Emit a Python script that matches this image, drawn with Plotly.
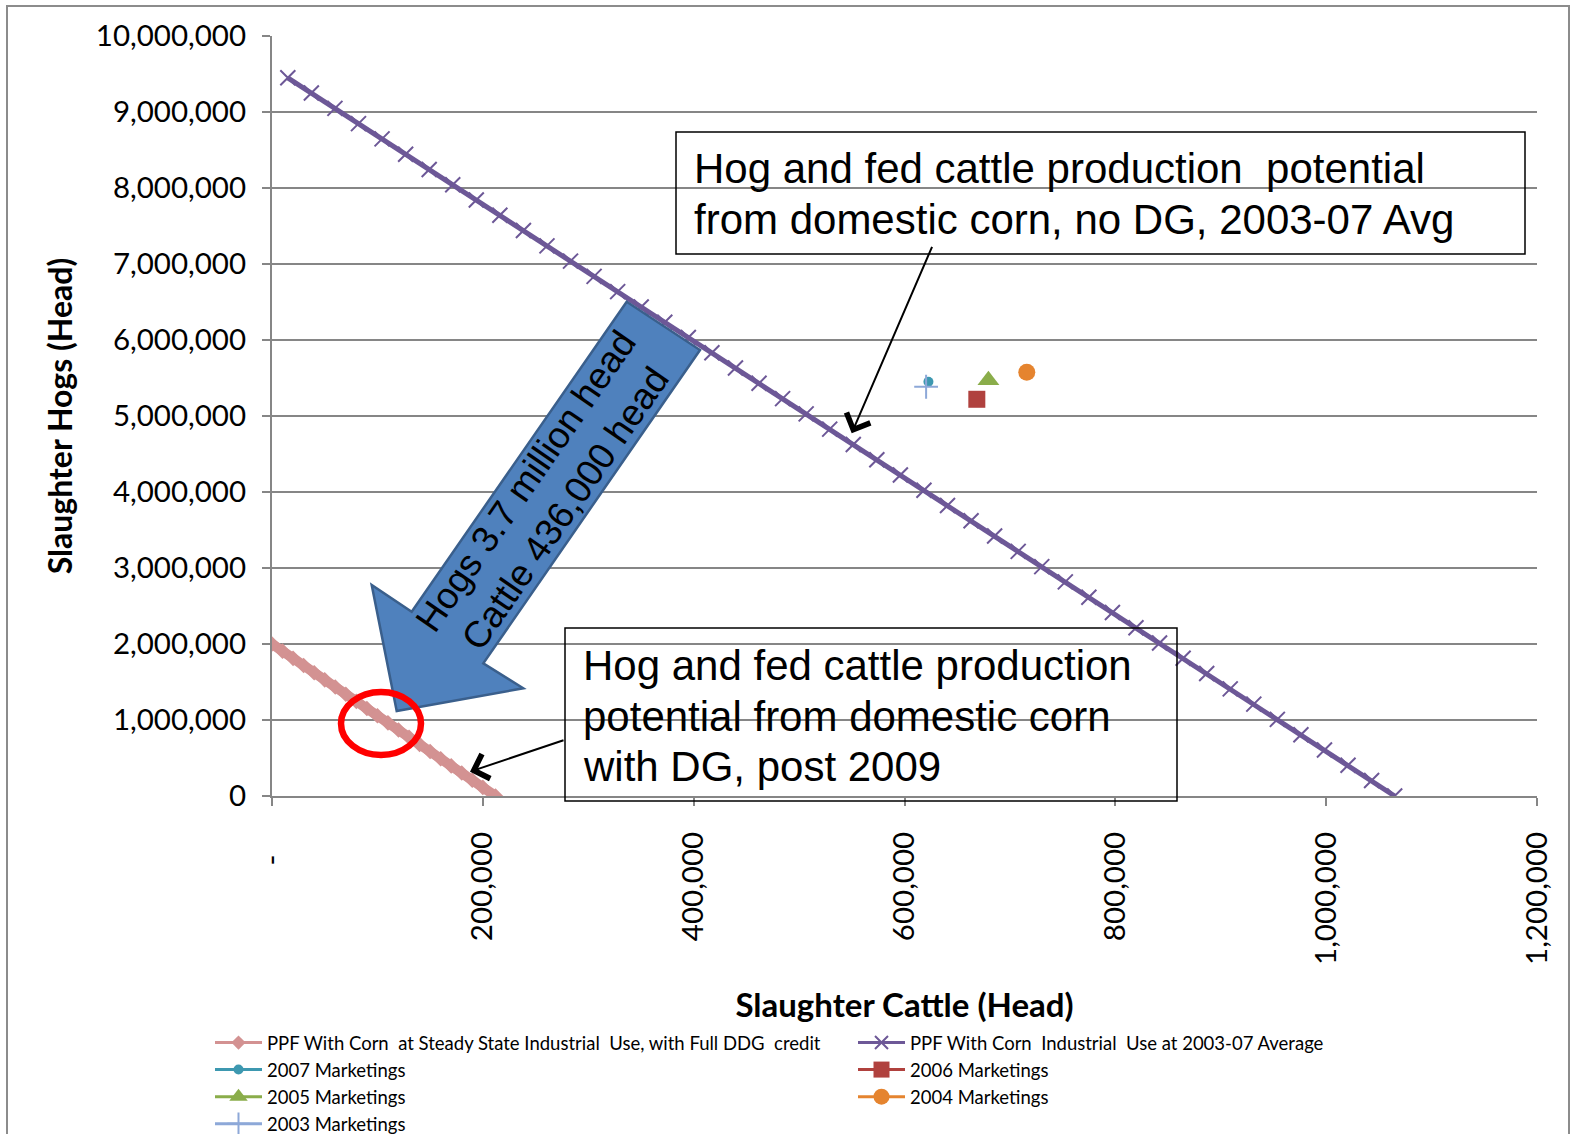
import plotly.graph_objects as go

# ---------------- data ----------------
ppf_ddg_cattle = [0, 10000, 20000, 30000, 40000, 50000, 60000, 70000, 80000, 90000, 100000,
                  110000, 120000, 130000, 140000, 150000, 160000, 170000, 180000, 190000, 200000, 212000]
ppf_ddg_hogs = [2000000, 1905700, 1811300, 1717000, 1622600, 1528300, 1434000, 1339600, 1245300,
                1150900, 1056600, 962300, 867900, 773600, 679200, 584900, 490600, 396200, 301900,
                207500, 113200, 0]

ppf_avg_cattle = [15000, 37350, 59700, 82050, 104400, 126750, 149100, 171450, 193800, 216150,
                  238500, 260850, 283200, 305550, 327900, 350250, 372600, 394950, 417300, 439650,
                  462000, 484350, 506700, 529050, 551400, 573750, 596100, 618450, 640800, 663150,
                  685500, 707850, 730200, 752550, 774900, 797250, 819600, 841950, 864300, 886650,
                  909000, 931350, 953700, 976050, 998400, 1020750, 1043100, 1065000]
ppf_avg_hogs = [9450000, 9249000, 9048000, 8847000, 8646000, 8445000, 8244000, 8043000, 7842000,
                7641000, 7440000, 7239000, 7038000, 6837000, 6636000, 6435000, 6234000, 6033000,
                5832000, 5631000, 5430000, 5229000, 5028000, 4827000, 4626000, 4425000, 4224000,
                4023000, 3822000, 3621000, 3420000, 3219000, 3018000, 2817000, 2616000, 2415000,
                2214000, 2013000, 1812000, 1611000, 1410000, 1209000, 1008000, 807000, 606000,
                405000, 204000, 0]

marketing_years = ["2007 Marketings", "2006 Marketings", "2005 Marketings", "2004 Marketings", "2003 Marketings"]
marketing_cattle = [622700, 668600, 679600, 716000, 620500]
marketing_hogs = [5450000, 5220000, 5470000, 5575000, 5385000]

x_tick_vals = [0, 200000, 400000, 600000, 800000, 1000000, 1200000]
x_tick_text = ["-\u00a0\u00a0\u00a0", "200,000", "400,000", "600,000", "800,000", "1,000,000", "1,200,000"]
y_tick_vals = [0, 1000000, 2000000, 3000000, 4000000, 5000000, 6000000, 7000000, 8000000, 9000000, 10000000]
y_tick_text = ["0", "1,000,000", "2,000,000", "3,000,000", "4,000,000", "5,000,000",
               "6,000,000", "7,000,000", "8,000,000", "9,000,000", "10,000,000"]

# ---------------- layout geometry ----------------
W, H = 1570, 1134
L, R, T, B = 272, 1537, 36, 796


def px(x):
    return (x - L) / (R - L)


def py(y):
    return (B - y) / (B - T)


GRID = "#868686"
FONT = "Lato"
PINK = "#D39292"
PURPLE = "#6D5897"

fig = go.Figure()

PINK_NAME = "PPF With Corn  at Steady State Industrial  Use, with Full DDG  credit"
PURPLE_NAME = "PPF With Corn  Industrial  Use at 2003-07 Average"

fig.add_trace(go.Scatter(
    x=ppf_ddg_cattle, y=ppf_ddg_hogs, mode="lines+markers", name=PINK_NAME, showlegend=False,
    line=dict(color=PINK, width=10),
    marker=dict(symbol="diamond", size=12, color=PINK),
))
fig.add_trace(go.Scatter(
    x=ppf_avg_cattle, y=ppf_avg_hogs, mode="lines+markers", name=PURPLE_NAME, showlegend=False,
    line=dict(color=PURPLE, width=5),
    marker=dict(symbol="x-thin", size=15, color=PURPLE, line=dict(color=PURPLE, width=2)),
))
# legend entries (thin line style like the original legend)
fig.add_trace(go.Scatter(
    x=[None], y=[None], mode="lines+markers", name=PINK_NAME,
    line=dict(color=PINK, width=3), marker=dict(symbol="diamond", size=11, color=PINK),
))
fig.add_trace(go.Scatter(
    x=[None], y=[None], mode="lines+markers", name=PURPLE_NAME,
    line=dict(color=PURPLE, width=3),
    marker=dict(symbol="x-thin", size=13, color=PURPLE, line=dict(color=PURPLE, width=2)),
))

styles = [
    dict(color="#3D98B0", symbol="circle", size=10),
    dict(color="#B0413E", symbol="square", size=17),
    dict(color="#8AAD4A", symbol="triangle-up", size=19),
    dict(color="#E5842F", symbol="circle", size=17),
    dict(color="#8DA8D8", symbol="cross-thin", size=17),
]
for name, cx, hy, st in zip(marketing_years, marketing_cattle, marketing_hogs, styles):
    mk = dict(symbol=st["symbol"], size=st["size"], color=st["color"])
    if st["symbol"] == "cross-thin":
        mk["line"] = dict(color=st["color"], width=2)
    fig.add_trace(go.Scatter(
        x=[cx], y=[hy], mode="lines+markers", name=name,
        line=dict(color=st["color"], width=3), marker=mk,
    ))

shapes = []
# outer chart border
shapes.append(dict(type="rect", xref="paper", yref="paper",
                   x0=px(7), x1=px(1569), y0=py(1140), y1=py(6),
                   line=dict(color="#8C8C8C", width=2), fillcolor="rgba(0,0,0,0)", layer="below"))
# text boxes
shapes.append(dict(type="rect", xref="paper", yref="paper",
                   x0=px(676), x1=px(1525), y0=py(254), y1=py(132),
                   line=dict(color="black", width=1.5)))
shapes.append(dict(type="rect", xref="paper", yref="paper",
                   x0=px(565), x1=px(1177), y0=py(801), y1=py(628),
                   line=dict(color="black", width=1.5)))
# big blue arrow
pts = [(626.7, 301.7), (700, 350), (483.3, 663.3), (523.3, 688.3), (396.7, 711),
       (371.7, 585), (411.7, 611.7)]
path = "M " + " L ".join(f"{px(a):.5f},{py(b):.5f}" for a, b in pts) + " Z"
shapes.append(dict(type="path", xref="paper", yref="paper", path=path,
                   fillcolor="#4F81BD", line=dict(color="#3A5F8C", width=2.5)))
# red circle
shapes.append(dict(type="circle", xref="paper", yref="paper",
                   x0=px(341), x1=px(421), y0=py(755), y1=py(692),
                   line=dict(color="#FF0000", width=6.5)))

ann = []
box_font = dict(family="Liberation Sans, Arial", size=42, color="black")
for txt, yy in [("Hog and fed cattle production\u00a0\u00a0potential", 168),
                ("from domestic corn, no DG, 2003-07 Avg", 219)]:
    ann.append(dict(xref="paper", yref="paper", x=px(692), y=py(yy), xanchor="left", yanchor="middle",
                    text=txt, showarrow=False, font=box_font))
for txt, yy in [("Hog and fed cattle production", 665),
                ("potential from domestic corn", 716),
                ("with DG, post 2009", 766)]:
    ann.append(dict(xref="paper", yref="paper", x=px(581), y=py(yy), xanchor="left", yanchor="middle",
                    text=txt, showarrow=False, font=box_font))
# arrows from boxes
ann.append(dict(xref="paper", yref="paper", x=px(851.7), y=py(433.3), ax=81, ay=-188,
                text="", showarrow=True, arrowhead=4, arrowsize=2.5, arrowwidth=2, arrowcolor="black"))
ann.append(dict(xref="paper", yref="paper", x=px(470), y=py(771.7), ax=95, ay=-32,
                text="", showarrow=True, arrowhead=4, arrowsize=2.5, arrowwidth=2, arrowcolor="black"))
# text on blue arrow
ann.append(dict(xref="paper", yref="paper", x=px(546), y=py(495), xanchor="center", yanchor="middle",
                text="Hogs 3.7 million head<br>Cattle 436,000 head", showarrow=False, textangle=-55.3,
                font=dict(family="Liberation Sans, Arial", size=37, color="black")))

fig.update_layout(
    width=W, height=H,
    margin=dict(l=L, r=W - R, t=T, b=H - B, autoexpand=False),
    paper_bgcolor="white", plot_bgcolor="white",
    font=dict(family=FONT, color="black"),
    shapes=shapes, annotations=ann,
    showlegend=True,
    legend=dict(orientation="h", x=px(210), y=py(1024), xanchor="left", yanchor="top",
                entrywidth=581, entrywidthmode="pixels", itemwidth=47,
                font=dict(family=FONT, size=18.5, color="black"),
                traceorder="normal", bgcolor="rgba(0,0,0,0)", tracegroupgap=0),
    xaxis=dict(range=[0, 1200000], tickvals=x_tick_vals, ticktext=x_tick_text, tickangle=-90,
               showgrid=False, zeroline=False, showline=True, linecolor=GRID, linewidth=2,
               ticks="outside", ticklen=8, tickwidth=2, tickcolor=GRID,
               tickfont=dict(family=FONT, size=29.5, color="black"), ticklabelstandoff=14,
               title=dict(text="<b>Slaughter Cattle (Head)</b>", standoff=30,
                          font=dict(family=FONT, size=33, color="black"))),
    yaxis=dict(range=[0, 10000000], tickvals=y_tick_vals, ticktext=y_tick_text,
               showgrid=True, gridcolor=GRID, gridwidth=1.5, zeroline=False,
               showline=True, linecolor=GRID, linewidth=2,
               ticks="outside", ticklen=8, tickwidth=2, tickcolor=GRID,
               tickfont=dict(family=FONT, size=29.5, color="black"), ticklabelstandoff=10,
               title=dict(text="<b>Slaughter Hogs (Head)</b>", standoff=14,
                          font=dict(family=FONT, size=32, color="black"))),
)

fig.write_html("out.html", config={"displayModeBar": False},
               post_script="document.body.style.margin='0px';document.body.style.padding='0px';")
